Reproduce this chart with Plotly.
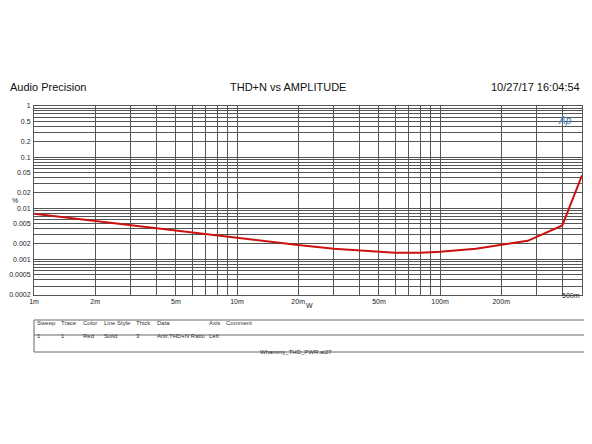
import plotly.graph_objects as go
import numpy as np

watts = [0.001, 0.002, 0.003, 0.005, 0.007, 0.01, 0.02, 0.03, 0.05, 0.06, 0.08, 0.1, 0.15, 0.2, 0.27, 0.4, 0.5]
thdn = [0.0078, 0.0056, 0.0047, 0.0036, 0.0031, 0.0026, 0.0019, 0.0016, 0.0014, 0.00135, 0.00135, 0.0014, 0.0016, 0.0019, 0.0023, 0.0046, 0.044]

x_major = {0.001: "1m", 0.002: "2m", 0.005: "5m", 0.01: "10m", 0.02: "20m", 0.05: "50m",
           0.1: "100m", 0.2: "200m"}
y_major = {1: "1", 0.5: "0.5", 0.2: "0.2", 0.1: "0.1", 0.05: "0.05", 0.02: "0.02", 0.01: "0.01",
           0.005: "0.005", 0.002: "0.002", 0.001: "0.001", 0.0005: "0.0005", 0.0002: "0.0002"}

xt = [m * 10.0 ** e for e in (-3, -2, -1) for m in range(1, 10) if m * 10.0 ** e <= 0.5001]
yt = [m * 10.0 ** e for e in (-4, -3, -2, -1) for m in range(1, 10) if m * 10.0 ** e >= 0.00019] + [1]

def lab(d, v):
    for k, s in d.items():
        if abs(k - v) / k < 1e-6:
            return s
    return ""

fnt = dict(family="Liberation Sans, Arial", size=7, color="#222")
fig = go.Figure(go.Scatter(x=watts, y=thdn, mode="lines", line=dict(color="#cc1111", width=2)))
fig.update_xaxes(type="log", range=[-3, np.log10(0.5)], tickvals=xt, ticktext=[lab(x_major, v) for v in xt],
                 showgrid=True, gridcolor="#555", gridwidth=1, showline=True, linecolor="#555", mirror=True,
                 tickfont=fnt, ticks="", automargin=False)
fig.update_yaxes(type="log", range=[np.log10(0.0002), 0], tickvals=yt, ticktext=[lab(y_major, v) for v in yt],
                 showgrid=True, gridcolor="#555", gridwidth=1, showline=True, linecolor="#555", mirror=True,
                 tickfont=fnt, ticks="", ticklabelstandoff=1, automargin=False)

# plot area in screen pixels: x 34..582, y 106..295 (page body has an 8px margin)
def px(x): return (x - 34) / 548
def py(y): return (295 - y) / 189

tf = dict(family="Liberation Sans, Arial", size=11, color="#111")
ann = [
    dict(x=8, y=87, text="Audio Precision", xanchor="left"),
    dict(x=288, y=87, text="THD+N vs AMPLITUDE", xanchor="center"),
    dict(x=582, y=87, text="10/27/17 16:04:54", xanchor="right"),
]
annotations = [dict(xref="paper", yref="paper", x=px(a["x"]), y=py(a["y"]), text=a["text"],
                    xanchor=a["xanchor"], yanchor="middle", showarrow=False, font=tf) for a in ann]
annotations.append(dict(xref="paper", yref="paper", x=px(10), y=py(200), text="%", showarrow=False, font=fnt))
annotations.append(dict(xref="paper", yref="paper", x=px(309), y=py(311), text="W", showarrow=False, font=fnt))
annotations.append(dict(xref="paper", yref="paper", x=1, y=py(301), text="500m", xanchor="right",
                        showarrow=False, font=fnt))
annotations.append(dict(xref="paper", yref="paper", x=px(574), y=py(113), text="<i>Ap</i>", showarrow=False,
                        font=dict(family="Liberation Sans", size=10, color="#3a7bbf")))

headers = ["Sweep", "Trace", "Color", "Line Style", "Thick", "Data", "Axis", "Comment"]
row = ["1", "1", "Red", "Solid", "3", "Anlr.THD+N Ratio", "Left", ""]
cols = [35, 59, 81, 102, 134, 155, 207, 224]
sf = dict(family="Liberation Sans, Arial", size=6, color="#333")
for c, h_, r in zip(cols, headers, row):
    annotations.append(dict(xref="paper", yref="paper", x=px(c), y=py(328), text=h_, xanchor="left", showarrow=False, font=sf))
    annotations.append(dict(xref="paper", yref="paper", x=px(c), y=py(341), text=r, xanchor="left", showarrow=False, font=sf))
annotations.append(dict(xref="paper", yref="paper", x=px(296), y=py(357), text="Whammy_THD_PWR.at27", showarrow=False, font=sf))

shapes = [
    dict(type="rect", xref="paper", yref="paper", x0=px(34), x1=px(600), y0=py(352), y1=py(320), line=dict(color="#666", width=1)),
    dict(type="line", xref="paper", yref="paper", x0=px(34), x1=px(600), y0=py(335), y1=py(335), line=dict(color="#666", width=1)),
]

fig.update_layout(width=584, height=436, margin=dict(l=26, r=10, t=98, b=149), plot_bgcolor="white",
                  paper_bgcolor="white", showlegend=False, annotations=annotations, shapes=shapes)
fig.write_html("out.html")
